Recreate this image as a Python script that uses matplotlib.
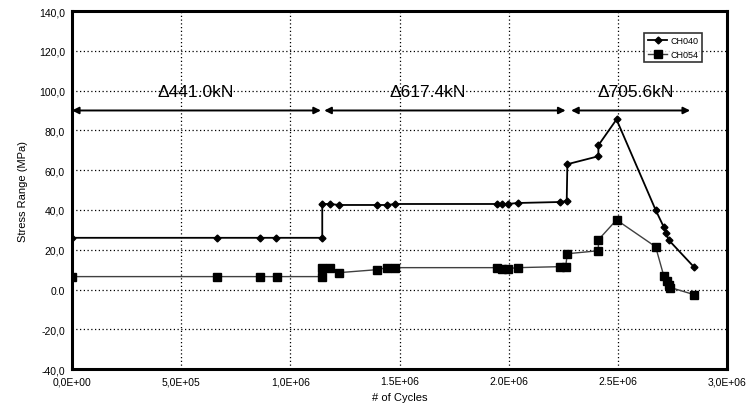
import numpy as np
import matplotlib
matplotlib.use("Agg")
import matplotlib.pyplot as plt

plt.rcParams['font.family'] = ['Liberation Sans', 'DejaVu Sans']

# data (cycles, MPa)
ch040_x = [0, 0.665e6, 0.862e6, 0.935e6, 1.146e6, 1.146e6, 1.182e6, 1.224e6,
           1.398e6, 1.444e6, 1.48e6, 1.948e6, 1.97e6, 1.994e6, 2.04e6, 2.236e6,
           2.265e6, 2.268e6, 2.41e6, 2.41e6, 2.493e6, 2.672e6, 2.709e6,
           2.72e6, 2.731e6, 2.846e6]
ch040_y = [26, 26, 26, 26, 26, 43, 43, 42.5, 42.5, 42.5, 43, 43, 43, 43,
           43.5, 44, 44.5, 63, 67, 72.5, 85.5, 40, 31.5, 28.5, 25, 11.5]

ch054_x = [0, 0.665e6, 0.862e6, 0.94e6, 1.146e6, 1.146e6, 1.182e6, 1.224e6,
           1.398e6, 1.444e6, 1.48e6, 1.948e6, 1.97e6, 1.994e6, 2.04e6, 2.236e6,
           2.26e6, 2.268e6, 2.41e6, 2.41e6, 2.493e6, 2.672e6, 2.709e6,
           2.722e6, 2.731e6, 2.74e6, 2.846e6]
ch054_y = [6.5, 6.5, 6.5, 6.5, 6.5, 11, 11, 8.5, 10, 11, 11, 11, 10.5, 10.5,
           11, 11.5, 11.5, 18, 19.5, 25, 35, 21.5, 7, 4.5, 2.5, 1, -2.5]

# load ranges: (start, end, label)
load_start = [0, 1.155e6, 2.285e6]
load_end = [1.14e6, 2.26e6, 2.83e6]
load_text = ['Δ441.0kN', 'Δ617.4kN', 'Δ705.6kN']
load_text_x = [0.565e6, 1.63e6, 2.58e6]
arrow_y = 90

x_ticks = [0, 0.5e6, 1.0e6, 1.5e6, 2.0e6, 2.5e6, 3.0e6]
x_labels = ['0,0E+00', '5,0E+05', '1,0E+06', '1.5E+06', '2.0E+06', '2.5E+06', '3,0E+06']
y_ticks = [-40, -20, 0, 20, 40, 60, 80, 100, 120, 140]
y_labels = ['-40,0', '-20,0', '0.0', '20,0', '40,0', '60,0', '80,0', '100,0', '120,0', '140,0']

fig = plt.figure(figsize=(7.49, 4.14), dpi=100)
ax = fig.add_axes([0.096, 0.106, 0.875, 0.865])

ax.plot(ch054_x, ch054_y, color='0.25', lw=1.0, marker='s', ms=6,
        mfc='black', mec='black', label='CH054', zorder=3)
ax.plot(ch040_x, ch040_y, color='black', lw=1.3, marker='D', ms=3.5,
        mfc='black', mec='black', label='CH040', zorder=4)

for s, e, t, tx in zip(load_start, load_end, load_text, load_text_x):
    ax.annotate('', xy=(e, arrow_y), xytext=(s, arrow_y),
                arrowprops=dict(arrowstyle='<|-|>', color='black', lw=1.4,
                                mutation_scale=10, shrinkA=0, shrinkB=0))
    ax.text(tx, 99.5, t, fontsize=12.5, ha='center', va='center')

ax.set_xlim(0, 3.0e6)
ax.set_ylim(-40, 140)
ax.set_xticks(x_ticks)
ax.set_xticklabels(x_labels)
ax.set_yticks(y_ticks)
ax.set_yticklabels(y_labels)
ax.tick_params(length=0, labelsize=7.5, pad=5)
ax.grid(True, color='black', linestyle=(0, (1, 2)), lw=0.9)
for sp in ax.spines.values():
    sp.set_linewidth(2.2)

ax.set_xlabel('# of Cycles', fontsize=8)
ax.set_ylabel('Stress Range (MPa)', fontsize=8, labelpad=8)

handles, labels = ax.get_legend_handles_labels()
leg = ax.legend(handles[::-1], labels[::-1], loc='upper right',
                bbox_to_anchor=(0.968, 0.952), fontsize=6.5, frameon=True,
                fancybox=False, handlelength=2.2, borderpad=0.4,
                labelspacing=0.5, handletextpad=0.3)
leg.get_frame().set_edgecolor('black')
leg.get_frame().set_linewidth(1.2)

fig.savefig('out.png', dpi=100)
